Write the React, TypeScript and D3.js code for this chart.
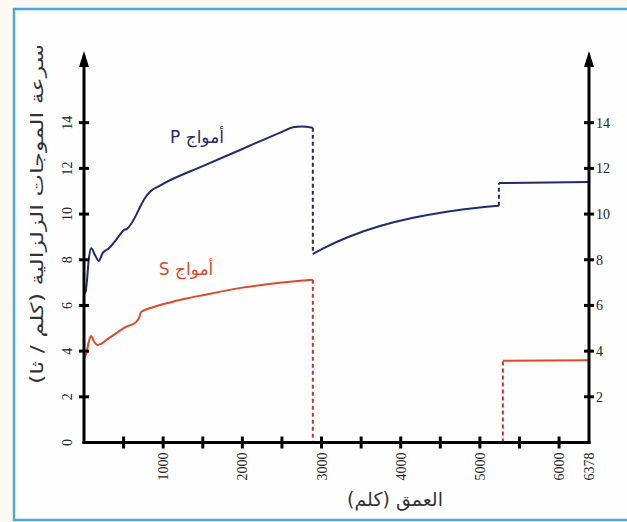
import React from "react";
import * as d3 from "d3";

const W = 627;
const H = 522;

// P waves – mantle
const pMantleDepth = [0, 20, 35, 60, 90, 140, 186, 237, 316, 405, 506, 543, 581, 650, 707, 770, 834, 960, 1500, 2000, 2500, 2640, 2750, 2890];
const pMantleVel = [6.5, 6.6, 7.0, 8.0, 8.5, 8.2, 7.95, 8.3, 8.5, 8.87, 9.3, 9.35, 9.5, 9.9, 10.3, 10.7, 10.98, 11.25, 12.1, 12.85, 13.6, 13.8, 13.83, 13.78];
// P waves – outer core
const pOuterDepth = [2890, 3000, 3322, 3738, 4155, 4585, 5001, 5240];
const pOuterVel = [8.25, 8.47, 9.0, 9.5, 9.85, 10.12, 10.3, 10.36];
// P waves – inner core
const pInnerDepth = [5240, 6378];
const pInnerVel = [11.36, 11.4];

// S waves – mantle
const sMantleDepth = [0, 30, 60, 89, 130, 173, 316, 530, 660, 700, 720, 870, 1075, 1290, 1500, 2000, 2500, 2890];
const sMantleVel = [3.7, 3.9, 4.4, 4.66, 4.4, 4.27, 4.57, 5.06, 5.28, 5.5, 5.71, 5.92, 6.12, 6.3, 6.45, 6.78, 7.0, 7.12];
// S waves – inner core
const sInnerDepth = [5290, 6378];
const sInnerVel = [3.58, 3.6];

const xTickLabels = [1000, 2000, 3000, 4000, 5000, 6000, 6378];
const xMinorTicks = [500, 1000, 1500, 2000, 2500, 3000, 3500, 4000, 4500, 5000, 5500, 6000];
const yTicks = [2, 4, 6, 8, 10, 12, 14];

const yTitle = "سرعة الموجات الزلزالية (كلم / ثا)";
const xTitle = "العمق (كلم)";
const pLabel = "أمواج P";
const sLabel = "أمواج S";

const P_COLOR = "#1f2b6e";
const S_COLOR = "#dc4a2a";
const S_DASH = "#c8322a";

const serif = "'Liberation Serif', 'DejaVu Serif', serif";
const arab = "'DejaVu Sans', 'Noto Sans', sans-serif";

export default function App() {
  const x = d3.scaleLinear().domain([0, 6378]).range([84, 589]);
  const y = d3.scaleLinear().domain([0, 14]).range([442.5, 122.7]);

  const mk = (ds: number[], vs: number[], curve: any = d3.curveMonotoneX) =>
    d3
      .line<number>()
      .x((_, i) => x(ds[i]))
      .y((_, i) => y(vs[i]))
      .curve(curve)(ds) || "";

  const x0 = x(0);
  const x1 = x(6378);
  const y0 = y(0);
  const yTop = 51;

  const dashed = (
    xv: number,
    v0: number,
    v1: number,
    color: string,
    key: string
  ) => (
    <line
      key={key}
      x1={x(xv)}
      x2={x(xv)}
      y1={y(v0)}
      y2={y(v1)}
      stroke={color}
      strokeWidth={2}
      strokeDasharray="4 3"
    />
  );

  return (
    <svg
      width={W}
      height={H}
      style={{ position: "absolute", left: 0, top: 0, display: "block" }}
    >
      <rect x={0} y={0} width={W} height={H} fill="#fbf9f1" />
      <rect
        x={14}
        y={9}
        width={630}
        height={511}
        fill="#fefefe"
        stroke="#4ea6d9"
        strokeWidth={2.5}
      />

      {/* curves */}
      <path d={mk(pMantleDepth, pMantleVel)} fill="none" stroke={P_COLOR} strokeWidth={2} />
      <path d={mk(pOuterDepth, pOuterVel, d3.curveBasis)} fill="none" stroke={P_COLOR} strokeWidth={2} />
      <path d={mk(pInnerDepth, pInnerVel)} fill="none" stroke={P_COLOR} strokeWidth={2} />
      <path d={mk(sMantleDepth, sMantleVel)} fill="none" stroke={S_COLOR} strokeWidth={2} />
      <path d={mk(sInnerDepth, sInnerVel)} fill="none" stroke={S_COLOR} strokeWidth={2} />

      {dashed(2890, pMantleVel[pMantleVel.length - 1], pOuterVel[0], P_COLOR, "pd1")}
      {dashed(5240, pOuterVel[pOuterVel.length - 1], pInnerVel[0], P_COLOR, "pd2")}
      {dashed(2890, sMantleVel[sMantleVel.length - 1], 0, S_DASH, "sd1")}
      {dashed(5290, 0, sInnerVel[0], S_DASH, "sd2")}

      {/* axes */}
      <line x1={x0} x2={x0} y1={y0 + 1.5} y2={yTop + 10} stroke="#000" strokeWidth={3} />
      <line x1={x1} x2={x1} y1={y0 + 1.5} y2={yTop + 10} stroke="#000" strokeWidth={3} />
      <line x1={x0 - 1.5} x2={x1 + 1.5} y1={y0} y2={y0} stroke="#000" strokeWidth={3} />
      <path d={`M${x0},${yTop} L${x0 - 5},${yTop + 16} L${x0 + 5},${yTop + 16} Z`} fill="#000" />
      <path d={`M${x1},${yTop} L${x1 - 5},${yTop + 16} L${x1 + 5},${yTop + 16} Z`} fill="#000" />

      {/* y ticks */}
      {yTicks.map((t) => (
        <g key={"yt" + t}>
          <line x1={x0 - 5} x2={x0 + 5} y1={y(t)} y2={y(t)} stroke="#000" strokeWidth={3} />
          <line x1={x1 - 5} x2={x1 + 5} y1={y(t)} y2={y(t)} stroke="#000" strokeWidth={3} />
          <text
            transform={`translate(${x0 - 12},${y(t)}) rotate(-90)`}
            textAnchor="middle"
            fontFamily={serif}
            fontSize={14}
            fill="#222"
          >
            {t}
          </text>
          <text
            x={x1 + 7}
            y={y(t) + 5}
            fontFamily={serif}
            fontSize={14}
            fill="#222"
          >
            {t}
          </text>
        </g>
      ))}
      <text
        transform={`translate(${x0 - 12},${y0}) rotate(-90)`}
        textAnchor="middle"
        fontFamily={serif}
        fontSize={14}
        fill="#222"
      >
        0
      </text>

      {/* x ticks */}
      {xMinorTicks.map((t) => (
        <line key={"xt" + t} x1={x(t)} x2={x(t)} y1={y0 - 6} y2={y0 + 6} stroke="#000" strokeWidth={3} />
      ))}
      {xTickLabels.map((t) => (
        <text
          key={"xl" + t}
          transform={`translate(${x(t) + 5},${y0 + 10}) rotate(-90)`}
          textAnchor="end"
          fontFamily={serif}
          fontSize={14}
          fill="#222"
        >
          {t}
        </text>
      ))}

      {/* titles */}
      <text
        transform={`translate(43,${214}) rotate(-90)`}
        textAnchor="middle"
        fontFamily={arab}
        fontSize={17}
        textLength={340}
        lengthAdjust="spacingAndGlyphs"
        fill="#333"
        style={{ direction: "rtl" }}
      >
        {yTitle}
      </text>
      <text
        x={395}
        y={506}
        textAnchor="middle"
        fontFamily={arab}
        fontSize={19}
        fill="#333"
        style={{ direction: "rtl" }}
      >
        {xTitle}
      </text>

      <text
        x={197}
        y={143}
        textAnchor="middle"
        fontFamily={arab}
        fontSize={17}
        fill={P_COLOR}
        style={{ direction: "rtl" }}
      >
        {pLabel}
      </text>
      <text
        x={186}
        y={275}
        textAnchor="middle"
        fontFamily={arab}
        fontSize={17}
        fill={S_COLOR}
        style={{ direction: "rtl" }}
      >
        {sLabel}
      </text>
    </svg>
  );
}
